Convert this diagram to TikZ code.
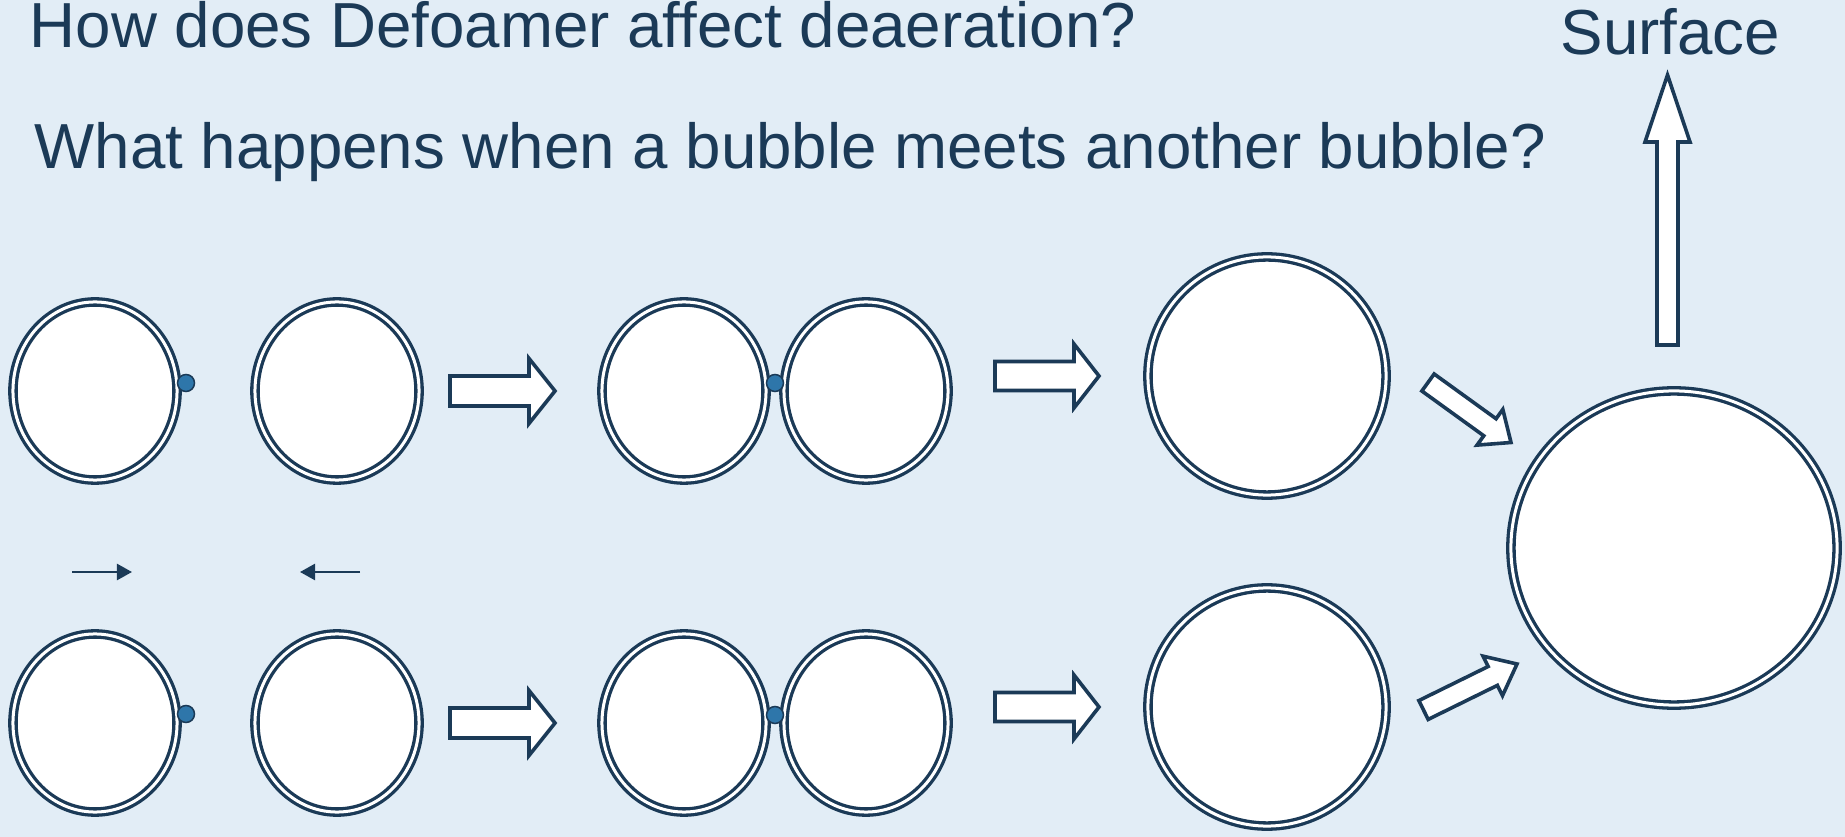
\documentclass[tikz,border=0pt]{standalone}
\usepackage{fontspec}
\setmainfont{Liberation Sans}
\usetikzlibrary{calc,arrows.meta,shapes.geometric}
\definecolor{navy}{RGB}{27,58,87}
\definecolor{bgblue}{RGB}{226,237,246}
\definecolor{dotblue}{RGB}{46,118,170}
% #1 tail, #2 tip, #3 shaft half width, #4 head half width, #5 head length
\newcommand\fatarrow[5]{%
  \coordinate (fah) at ($(#2)!#5!(#1)$);
  \draw[fatline] ($(#1)!#3!90:(#2)$) -- ($(fah)!#3!90:(#2)$) -- ($(fah)!#4!90:(#2)$)
    -- (#2) -- ($(fah)!#4!-90:(#2)$) -- ($(fah)!#3!-90:(#2)$) -- ($(#1)!#3!-90:(#2)$) -- cycle;
}
\begin{document}
\begin{tikzpicture}[x=0.01cm,y=-0.01cm,
  bubble/.style={ellipse, draw=navy, line width=0.033cm, double=white, double distance=0.03cm,
    fill=white, inner sep=0pt, outer sep=0pt},
  small/.style={bubble, minimum width=1.64cm, minimum height=1.78cm},
  big/.style={bubble, minimum width=2.38cm, minimum height=2.38cm},
  huge/.style={bubble, minimum width=3.26cm, minimum height=3.14cm},
  dot/.style={circle, fill=dotblue, draw=navy, line width=0.015cm, minimum size=0.17cm, inner sep=0pt},
  fatline/.style={draw=navy, fill=white, line width=0.036cm, line join=miter},
  thinarrow/.style={draw=navy, line width=0.024cm, -{Triangle[length=0.15cm,width=0.16cm]}},
  title/.style={font=\fontsize{18.1pt}{21pt}\selectfont, text=navy, inner sep=0pt, anchor=base west}]
\fill[bgblue] (0,0) rectangle (1845,837);
\useasboundingbox (0,0) rectangle (1845,837);

% texts
\node[title] (q1) at (29,48) {How does Defoamer affect deaeration?};
\node[title] (q2) at (34,169) {What happens when a bubble meets another bubble?};
\node[title] (surf) at (1560,55) {Surface};

% top row
\node[small] (t1) at (95,391) {};
\node[small] (t2) at (337,391) {};
\node[small] (t3) at (684,391) {};
\node[small] (t4) at (866,391) {};
\node[big] (t5) at (1267,376) {};
\node[dot] (dt1) at (186,383) {};
\node[dot] (dt3) at (775,383) {};

% bottom row
\node[small] (b1) at (95,723) {};
\node[small] (b2) at (337,723) {};
\node[small] (b3) at (684,723) {};
\node[small] (b4) at (866,723) {};
\node[big] (b5) at (1267,707) {};
\node[dot] (db1) at (186,714) {};
\node[dot] (db3) at (775,715) {};

% merged bubble
\node[huge] (f) at (1674,548) {};

% thin arrows
\coordinate (s1a) at (72,572);
\coordinate (s1b) at (132,572);
\coordinate (s2a) at (360,572);
\coordinate (s2b) at (300,572);
\draw[thinarrow] (s1a) -- (s1b);
\draw[thinarrow] (s2a) -- (s2b);

% block arrows
\coordinate (a1t) at (450,391); \coordinate (a1h) at (555,391);
\fatarrow{a1t}{a1h}{0.15cm}{0.325cm}{0.26cm}
\coordinate (a2t) at (450,723); \coordinate (a2h) at (555,723);
\fatarrow{a2t}{a2h}{0.15cm}{0.325cm}{0.26cm}
\coordinate (a3t) at (995,376); \coordinate (a3h) at (1099,376);
\fatarrow{a3t}{a3h}{0.145cm}{0.32cm}{0.25cm}
\coordinate (a4t) at (995,707); \coordinate (a4h) at (1099,707);
\fatarrow{a4t}{a4h}{0.145cm}{0.32cm}{0.25cm}
\coordinate (a5t) at (1428,382.5); \coordinate (a5h) at (1511,442.5);
\fatarrow{a5t}{a5h}{0.105cm}{0.22cm}{0.26cm}
\coordinate (a6t) at (1423.5,710); \coordinate (a6h) at (1517,664);
\fatarrow{a6t}{a6h}{0.105cm}{0.22cm}{0.27cm}
\coordinate (a7t) at (1667.5,345); \coordinate (a7h) at (1667.5,75);
\fatarrow{a7t}{a7h}{0.105cm}{0.225cm}{0.67cm}
\end{tikzpicture}
\end{document}
